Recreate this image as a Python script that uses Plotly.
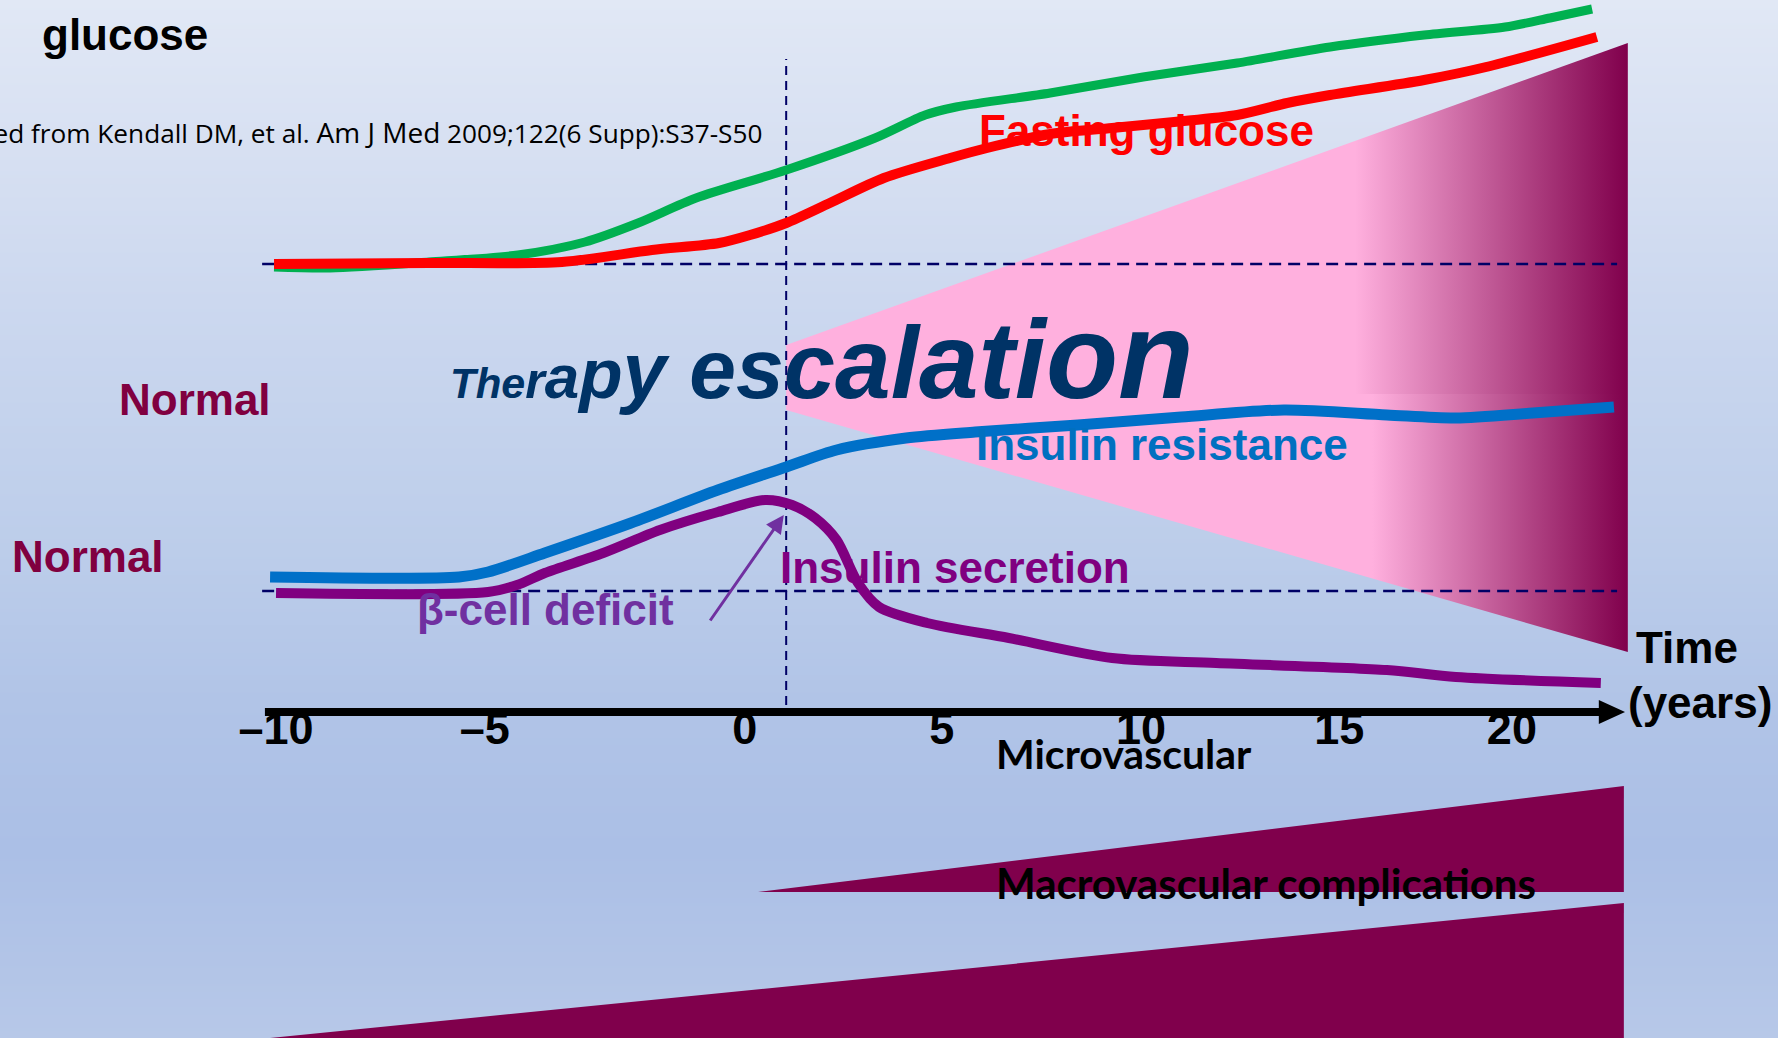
import numpy as np
import plotly.graph_objects as go

# ---- timeline data: x in years, y in relative level units ----
postprandial_x = [-11.85, -10.44, -7.95, -5.71, -4.02, -2.68, -1.22, 1.05, 3.29, 4.55, 5.33,
                  7.70, 10.04, 12.41, 14.75, 17.12, 19.16, 20.29, 21.35]
postprandial_y = [77.1, 77.0, 77.6, 78.3, 79.6, 81.5, 84.0, 86.8, 90.0, 92.3, 93.1,
                  94.5, 96.1, 97.5, 99.1, 100.3, 101.1, 102.0, 102.9]

fasting_x = [-11.85, -7.95, -4.60, -2.33, -0.64, 0.14, 1.05, 2.15, 3.51, 5.18, 6.11,
             7.70, 9.26, 10.82, 12.41, 13.67, 14.75, 17.12, 18.68, 21.47]
fasting_y = [77.4, 77.5, 77.6, 78.8, 79.5, 80.3, 81.5, 83.5, 86.0, 88.0, 89.0,
             90.4, 91.0, 91.6, 92.3, 93.5, 94.3, 95.8, 97.1, 100.1]

resistance_x = [-11.95, -7.19, -6.46, -5.03, -2.86, -0.67, 1.05, 2.32, 4.07, 5.81, 8.40,
                11.00, 13.59, 16.18, 17.92, 19.86, 21.90]
resistance_y = [46.1, 46.1, 46.6, 48.5, 51.5, 54.8, 57.1, 58.8, 60.0, 60.6, 61.3,
                62.1, 62.8, 62.3, 62.0, 62.5, 63.1]

secretion_x = [-11.80, -6.46, -5.73, -5.03, -3.56, -2.13, -0.67, 0.52, 1.20, 1.78, 2.32,
               2.86, 3.39, 4.60, 6.66, 9.26, 11.88, 16.18, 17.92, 21.57]
secretion_y = [44.5, 44.6, 45.3, 46.5, 48.5, 50.8, 52.6, 53.8, 53.3, 52.0, 49.8,
               45.5, 43.1, 41.5, 40.0, 38.0, 37.5, 36.8, 36.1, 35.5]

# normal reference levels and treatment start
normal_glucose_level = 77.4
normal_insulin_level = 44.7
reference_x = [-12.15, 21.98]
therapy_start = 1.05
therapy_span = [33.3, 97.9]

# therapy-escalation wedge (years, levels)
wedge_x = [1.05, 1.05, 22.25, 22.25]
wedge_y = [62.8, 69.3, 99.5, 38.6]
wedge_split = 64.4
wedge_shade_start = [15.38, 15.81]

# complication wedges
micro_x = [0.34, 22.15, 22.15]
micro_y = [14.6, 25.2, 14.6]
macro_x = [-11.95, 22.15, 22.15]
macro_y = [0.0, 13.5, -1.0]

# time axis
axis_x = [-12.08, 21.62]
axis_level = 32.6
tick_pos = [-11.80, -6.54, 0.01, 4.97, 9.99, 14.98, 19.33]
tick_text = ["\u201310", "\u20135", "0", "5", "10", "15", "20"]

X_RANGE = [-18.753, 26.033]
Y_RANGE = [0, 103.8]

PINK = "#FFB0DE"
MAROON = "#80004C"
NAVY = "#000066"

fig = go.Figure()

# slide background gradient
bg_levels = np.linspace(Y_RANGE[0], Y_RANGE[1], 260)
bg_stops = [
    [0.0, "#B7C8E8"],
    [188 / 1038, "#ABBFE6"],
    [338 / 1038, "#B1C4E7"],
    [488 / 1038, "#BCCDEA"],
    [738 / 1038, "#CCD8EF"],
    [888 / 1038, "#D7E0F2"],
    [1.0, "#E1E8F5"],
]
fig.add_trace(go.Heatmap(
    x=[X_RANGE[0] - 1, X_RANGE[1] + 1], y=bg_levels,
    z=[[v, v] for v in bg_levels], zmin=Y_RANGE[0], zmax=Y_RANGE[1],
    colorscale=bg_stops, showscale=False, hoverinfo="skip", zsmooth="best",
))


# therapy escalation wedge: split in two bands with their own shading
def wedge_band(upper):
    x0, x1 = wedge_x[0], wedge_x[2]
    if upper:
        ys = [wedge_split, wedge_y[1], wedge_y[2], wedge_split, wedge_split]
    else:
        ys = [wedge_y[0], wedge_split, wedge_split, wedge_y[3], wedge_y[0]]
    return [x0, x0, x1, x1, x0], ys


for upper, start in [(True, wedge_shade_start[0]), (False, wedge_shade_start[1])]:
    xs, ys = wedge_band(upper)
    fig.add_trace(go.Scatter(
        x=xs, y=ys, mode="lines", fill="toself", line=dict(width=0),
        fillgradient=dict(type="horizontal", colorscale=[[0, PINK], [1, MAROON]],
                          start=start, stop=wedge_x[2]),
        hoverinfo="skip", showlegend=False,
    ))

# complication wedges
for xs, ys in [(micro_x, micro_y), (macro_x, macro_y)]:
    fig.add_trace(go.Scatter(
        x=xs + [xs[0]], y=ys + [ys[0]], mode="lines", fill="toself",
        fillcolor=MAROON, line=dict(width=0, color=MAROON),
        hoverinfo="skip", showlegend=False,
    ))

# dashed normal levels and therapy start
for lvl in [normal_glucose_level, normal_insulin_level]:
    fig.add_trace(go.Scatter(
        x=reference_x, y=[lvl, lvl], mode="lines",
        line=dict(color=NAVY, width=2.5, dash="12px,7px"),
        hoverinfo="skip", showlegend=False,
    ))
fig.add_trace(go.Scatter(
    x=[therapy_start, therapy_start], y=therapy_span, mode="lines",
    line=dict(color=NAVY, width=2, dash="9px,6px"),
    hoverinfo="skip", showlegend=False,
))

# curves
curves = [
    (postprandial_x, postprandial_y, "#00B050", 9),
    (fasting_x, fasting_y, "#FF0000", 10),
    (resistance_x, resistance_y, "#0070C8", 11),
    (secretion_x, secretion_y, "#800080", 10),
]
for xs, ys, col, w in curves:
    fig.add_trace(go.Scatter(
        x=xs, y=ys, mode="lines",
        line=dict(color=col, width=w, shape="spline", smoothing=0.8),
        hoverinfo="skip", showlegend=False,
    ))

# time axis line with arrowhead
fig.add_trace(go.Scatter(
    x=axis_x, y=[axis_level, axis_level], mode="lines",
    line=dict(color="black", width=8), hoverinfo="skip", showlegend=False,
))
head_x = [axis_x[1] - 0.1, 22.18, axis_x[1] - 0.1, axis_x[1] - 0.1]
head_y = [axis_level + 1.2, axis_level, axis_level - 1.2, axis_level + 1.2]
fig.add_trace(go.Scatter(
    x=head_x, y=head_y, mode="lines", fill="toself", fillcolor="black",
    line=dict(width=0, color="black"), hoverinfo="skip", showlegend=False,
))

ARIAL = "Liberation Sans"
CALI = "Lato"


def label(text, x, y, size, color, family=ARIAL, weight="bold", xanchor="left", style="normal"):
    fig.add_annotation(
        x=x, y=y, xref="x", yref="y", text=text, showarrow=False,
        xanchor=xanchor, yanchor="middle", borderpad=0,
        font=dict(family=family, size=size, color=color, weight=weight, style=style),
    )


label("glucose", -17.72, 100.34, 44, "black")
label("Normal", -15.78, 63.84, 44, "#800040")
label("Normal", -18.48, 48.14, 44, "#800040")
label("Fasting glucose", 5.88, 90.74, 44, "#FF0000")
label("Insulin resistance", 5.81, 59.34, 44, "#0070C0")
label("Insulin secretion", 0.87, 47.04, 44, "#800080")
label("\u03b2-cell deficit", -8.27, 42.84, 44, "#7030A0")
label("Time", 22.43, 39.04, 44, "black")
label("(years)", 22.23, 33.54, 44, "black")
label("Microvascular", 6.31, 28.44, 41, "black", family=CALI)
label("Macrovascular complications", 6.31, 15.54, 42, "black", family=CALI)

citation = ("Adapted from Kendall DM, et al. <span style='font-size:28px'>Am J Med</span>"
            " 2009;122(6 Supp):S37-S50")
label(citation, 0.47, 90.6, 26.2, "black", family="Open Sans", weight="normal", xanchor="right")

# growing lettering
escalation_chars = list("Therapy escalation")
escalation_sizes = [42, 42, 43, 50, 62, 71, 79, 82, 84, 86, 92, 100, 102, 107, 109, 112, 118, 124]
escalation_text = "".join(
    f"<span style='font-size:{s}px'>{c}</span>" for c, s in zip(escalation_chars, escalation_sizes)
)
label(escalation_text, -7.44, 68.3, 42, "#003366", style="italic")

# arrow to the start of therapy
fig.add_annotation(
    x=0.99, y=52.3, ax=-0.89, ay=41.6, xref="x", yref="y", axref="x", ayref="y",
    text="", showarrow=True, arrowhead=2, arrowsize=1.2, arrowwidth=3,
    arrowcolor="#7030A0", standoff=0,
)

fig.update_layout(
    width=1778, height=1038, autosize=False,
    margin=dict(l=0, r=0, t=0, b=0),
    paper_bgcolor="#C4D2EC", plot_bgcolor="rgba(0,0,0,0)",
    showlegend=False,
    xaxis=dict(range=X_RANGE, showgrid=False, zeroline=False, showline=False,
               tickvals=tick_pos, ticktext=tick_text, ticks="", anchor="free",
               position=(axis_level - Y_RANGE[0]) / (Y_RANGE[1] - Y_RANGE[0]),
               ticklabelstandoff=-14,
               tickfont=dict(family=ARIAL, size=45, color="black", weight="bold"),
               fixedrange=True),
    yaxis=dict(range=Y_RANGE, showgrid=False, zeroline=False, showline=False,
               showticklabels=False, ticks="", fixedrange=True),
)

fig.write_html("out.html", config={"displayModeBar": False})
